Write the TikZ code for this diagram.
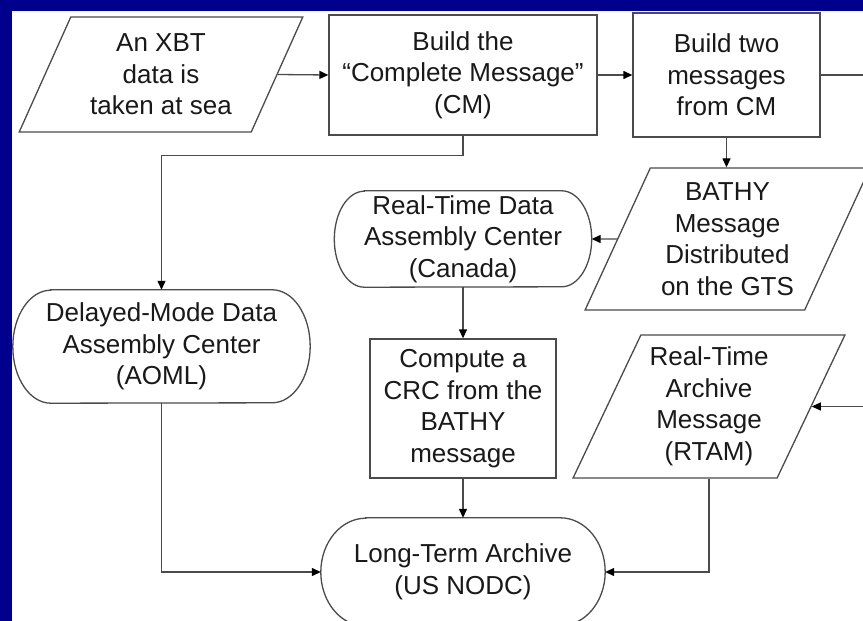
\documentclass[tikz,border=0pt]{standalone}
\usepackage{fontspec}
\setmainfont{Liberation Sans}
\usetikzlibrary{shapes.geometric,arrows.meta}
\definecolor{frameblue}{RGB}{0,0,140}
\definecolor{linegray}{RGB}{75,75,75}
\definecolor{txt}{RGB}{25,25,25}
\newcommand\termoutline[3]{%
  \draw[shapeline] ([xshift=#2pt]#1.north west) -- ([xshift=-#2pt]#1.north east)
    arc[start angle=90,end angle=-90,x radius=#2pt,y radius=#3pt]
    -- ([xshift=#2pt]#1.south west)
    arc[start angle=270,end angle=90,x radius=#2pt,y radius=#3pt] -- cycle;}
\begin{document}
\begin{tikzpicture}[x=1pt,y=-1pt,
  every node/.style={font=\fontsize{26}{31.5}\selectfont, text=txt, align=center, inner sep=0pt},
  shapeline/.style={draw=linegray, line width=1.3pt},
  procbox/.style 2 args={shapeline, rectangle, minimum width=#1, minimum height=#2},
  iobox/.style 2 args={shapeline, trapezium, trapezium left angle=63.5,
     trapezium right angle=116.5, trapezium stretches=true,
     minimum width=#1, minimum height=#2},
  termbox/.style 2 args={rectangle, minimum width=#1, minimum height=#2},
  conn/.style={draw=linegray, line width=1.3pt, -{Triangle[length=9pt,width=8pt,color=black,fill=black]}}]
\useasboundingbox (0,0) rectangle (863,621);
\clip (0,0) rectangle (863,621);
\fill[frameblue] (0,0) rectangle (863,621);
\fill[white] (12,11) rectangle (870,630);

\node[iobox={284}{115}] (xbt) at (161,74.5) {An XBT\\data is\\taken at sea};
\node[procbox={268}{120}] (cm) at (463,75) {Build the\\“Complete Message”\\(CM)};
\node[procbox={187}{124}] (b2) at (726.5,75) {Build two\\messages\\from CM};
\node[iobox={285}{142}] (bathy) at (727.5,239) {BATHY\\Message\\Distributed\\on the GTS};
\node[termbox={257}{96}] (rt) at (463,239) {Real-Time Data\\Assembly Center\\(Canada)};
\termoutline{rt}{30}{48}
\node[termbox={297}{113}] (dm) at (161.5,346.5) {Delayed-Mode Data\\Assembly Center\\(AOML)};
\termoutline{dm}{38}{56.5}
\node[procbox={186}{139}] (crc) at (463,408.5) {Compute a\\CRC from the\\BATHY\\message};
\node[iobox={272}{143}] (rtam) at (709,406.5) {Real-Time\\Archive\\Message\\(RTAM)};
\node[termbox={284}{108}] (lt) at (463,572) {Long-Term Archive\\(US NODC)};
\termoutline{lt}{45}{54}

\coordinate (offright) at (885,75);

\draw[conn] (xbt.east) -- (cm.west);
\draw[conn] (cm.east) -- (b2.west);
\draw[conn] (b2.east) -- (offright) |- (rtam.east);
\draw[conn] (cm.south) -- ++(0,20) -| (dm.north);
\draw[conn] (b2.south) -- (b2.south |- bathy.north);
\draw[conn] (bathy.west) -- (rt.east);
\draw[conn] (rt.south) -- (crc.north);
\draw[conn] (crc.south) -- (lt.north);
\draw[conn] (dm.south) |- (lt.west);
\draw[conn] (rtam.south) |- (lt.east);
\end{tikzpicture}
\end{document}
